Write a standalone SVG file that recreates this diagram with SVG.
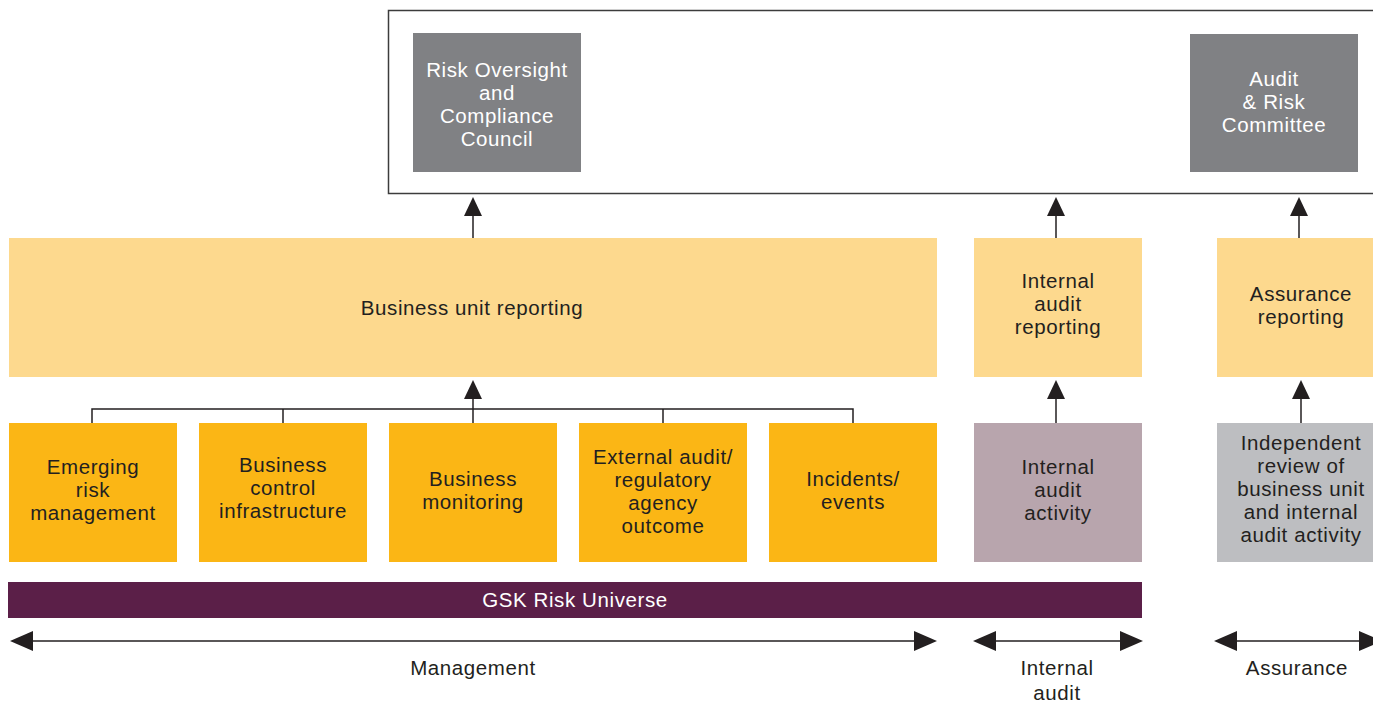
<svg xmlns="http://www.w3.org/2000/svg" width="1373" height="704" viewBox="0 0 1373 704">
<style>
text{font-family:"Liberation Sans",Arial,sans-serif;font-size:20.5px;letter-spacing:0.6px;text-anchor:middle}
.dk{fill:#231F20}
.wt{fill:#FFFFFF}
.gray{fill:#808184}
.light{fill:#FDD98E}
.gold{fill:#FBB615}
.conn line,.conn polyline{stroke:#231F20;stroke-width:1.5;fill:none}
.head{fill:#231F20}
</style>
<rect x="388.5" y="10.5" width="990" height="183" fill="#FFFFFF" stroke="#3C3C3C" stroke-width="1.5"/>
<g id="rocc">
<rect class="gray" x="413" y="33" width="168" height="139"/>
<text class="wt" x="497" y="77">Risk Oversight</text>
<text class="wt" x="497" y="100">and</text>
<text class="wt" x="497" y="123">Compliance</text>
<text class="wt" x="497" y="146">Council</text>
</g>
<g id="arc">
<rect class="gray" x="1190" y="34" width="168" height="138"/>
<text class="wt" x="1274" y="86">Audit</text>
<text class="wt" x="1274" y="109">&amp; Risk</text>
<text class="wt" x="1274" y="132">Committee</text>
</g>
<g id="bur">
<rect class="light" x="9" y="238" width="928" height="139"/>
<text class="dk" x="472" y="315">Business unit reporting</text>
</g>
<g id="iar">
<rect class="light" x="974" y="238" width="168" height="139"/>
<text class="dk" x="1058" y="288">Internal</text>
<text class="dk" x="1058" y="311">audit</text>
<text class="dk" x="1058" y="334">reporting</text>
</g>
<g id="ar">
<rect class="light" x="1217" y="238" width="160" height="139"/>
<text class="dk" x="1301" y="301">Assurance</text>
<text class="dk" x="1301" y="324">reporting</text>
</g>
<g id="erm">
<rect class="gold" x="9" y="423" width="168" height="139"/>
<text class="dk" x="93" y="474">Emerging</text>
<text class="dk" x="93" y="497">risk</text>
<text class="dk" x="93" y="520">management</text>
</g>
<g id="bci">
<rect class="gold" x="199" y="423" width="168" height="139"/>
<text class="dk" x="283" y="472">Business</text>
<text class="dk" x="283" y="495">control</text>
<text class="dk" x="283" y="518">infrastructure</text>
</g>
<g id="bm">
<rect class="gold" x="389" y="423" width="168" height="139"/>
<text class="dk" x="473" y="486">Business</text>
<text class="dk" x="473" y="509">monitoring</text>
</g>
<g id="ea">
<rect class="gold" x="579" y="423" width="168" height="139"/>
<text class="dk" x="663" y="464">External audit/</text>
<text class="dk" x="663" y="487">regulatory</text>
<text class="dk" x="663" y="510">agency</text>
<text class="dk" x="663" y="533">outcome</text>
</g>
<g id="ie">
<rect class="gold" x="769" y="423" width="168" height="139"/>
<text class="dk" x="853" y="486">Incidents/</text>
<text class="dk" x="853" y="509">events</text>
</g>
<g id="iaa">
<rect fill="#B8A5AD" x="974" y="423" width="168" height="139"/>
<text class="dk" x="1058" y="474">Internal</text>
<text class="dk" x="1058" y="497">audit</text>
<text class="dk" x="1058" y="520">activity</text>
</g>
<g id="ir">
<rect fill="#BDBEC1" x="1217" y="423" width="160" height="139"/>
<text class="dk" x="1301" y="450">Independent</text>
<text class="dk" x="1301" y="473">review of</text>
<text class="dk" x="1301" y="496">business unit</text>
<text class="dk" x="1301" y="519">and internal</text>
<text class="dk" x="1301" y="542">audit activity</text>
</g>
<g id="gsk">
<rect fill="#5B1F48" x="8" y="582" width="1134" height="36"/>
<text class="wt" x="575" y="607">GSK Risk Universe</text>
</g>
<g id="labels">
<text class="dk" x="473" y="675">Management</text>
<text class="dk" x="1057" y="675">Internal</text>
<text class="dk" x="1057" y="700">audit</text>
<text class="dk" x="1297" y="675">Assurance</text>
</g>
<g class="conn" id="connectors">
<polyline points="92,423 92,409 853,409 853,423"/>
<line x1="283" y1="409" x2="283" y2="423"/>
<line x1="663" y1="409" x2="663" y2="423"/>
<line x1="473" y1="423" x2="473" y2="398"/>
<polygon class="head" points="473,380 464,399 482,399"/>
<line x1="473" y1="238" x2="473" y2="215"/>
<polygon class="head" points="473,197 464,216 482,216"/>
<line x1="1056" y1="238" x2="1056" y2="215"/>
<polygon class="head" points="1056,197 1047,216 1065,216"/>
<line x1="1056" y1="423" x2="1056" y2="398"/>
<polygon class="head" points="1056,380 1047,399 1065,399"/>
<line x1="1299" y1="238" x2="1299" y2="215"/>
<polygon class="head" points="1299,197 1290,216 1308,216"/>
<line x1="1301" y1="423" x2="1301" y2="398"/>
<polygon class="head" points="1301,380 1292,399 1310,399"/>
<line x1="30" y1="641" x2="916" y2="641"/>
<polygon class="head" points="10,641 33,631 33,651"/>
<polygon class="head" points="937,641 914,631 914,651"/>
<line x1="993" y1="641" x2="1122" y2="641"/>
<polygon class="head" points="973,641 996,631 996,651"/>
<polygon class="head" points="1143,641 1120,631 1120,651"/>
<line x1="1234" y1="641" x2="1373" y2="641"/>
<polygon class="head" points="1214,641 1237,631 1237,651"/>
<polygon class="head" points="1382,641 1359,631 1359,651"/>
</g>
</svg>
